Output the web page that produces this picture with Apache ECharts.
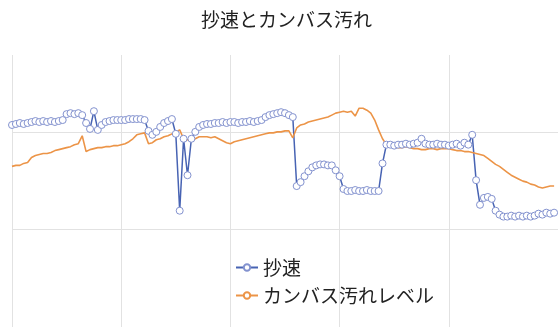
<!DOCTYPE html>
<html>
<head>
<meta charset="utf-8">
<script src="https://cdn.jsdelivr.net/npm/echarts@6/dist/echarts.min.js"></script>
<style>
  html, body { margin: 0; padding: 0; background: #fff; }
  #chart { width: 558px; height: 327px; }
</style>
</head>
<body>
<div id="chart"></div>
<script>
// 抄速 (one reading per sample)
const speedValues = [
  205, 206, 207, 206, 207, 208, 209, 208, 209, 208,
  209, 208, 209, 210, 216, 217, 216, 217, 215, 207,
  201, 219, 200, 205, 208, 209, 210, 210, 210, 210,
  211, 211, 211, 211, 210, 199, 195, 198, 203, 207,
  209, 211, 196, 118, 191, 154, 191, 198, 203, 205,
  206, 206, 207, 207, 208, 207, 208, 208, 207, 208,
  208, 209, 208, 209, 210, 213, 215, 216, 217, 218,
  217, 215, 213, 143, 147, 153, 158, 162, 164, 165,
  165, 164, 164, 159, 153, 140, 138, 138, 139, 138,
  138, 139, 138, 138, 138, 166, 185, 185, 184, 185,
  185, 186, 185, 186, 187, 191, 186, 185, 185, 186,
  185, 185, 184, 185, 186, 184, 187, 185, 195, 149,
  124, 131, 132, 130, 118, 114, 112, 112, 113, 112,
  113, 112, 113, 112, 113, 115, 114, 116, 115, 116
]

// カンバス汚れレベル
const dirtValues = [
  163, 164, 164, 166, 167, 172, 174, 175, 176, 176,
  177, 179, 180, 181, 182, 183, 185, 186, 194, 178,
  180, 181, 182, 182, 183, 183, 184, 184, 185, 186,
  188, 191, 195, 196, 197, 186, 187, 190, 191, 193,
  194, 196, 198, 200, 191, 190, 189, 191, 193, 193,
  193, 192, 193, 191, 189, 187, 186, 188, 189, 190,
  191, 192, 193, 194, 195, 196, 197, 197, 198, 198,
  199, 199, 192, 202, 205, 206, 208, 209, 210, 211,
  212, 213, 215, 217, 218, 219, 218, 219, 214, 222,
  222, 220, 217, 210, 200, 191, 185, 183, 183, 182,
  182, 183, 182, 181, 181, 180, 180, 181, 181, 180,
  181, 181, 181, 180, 179, 179, 178, 178, 177, 176,
  175, 174, 171, 168, 165, 163, 160, 157, 154, 152,
  150, 148, 147, 145, 144, 142, 141, 142, 143, 143
]

const seriesNames = ['抄速', 'カンバス汚れレベル']

const toPairs = (arr) => arr.map((v, i) => [i, v])

const myChart = echarts.init(document.getElementById('chart'))

const options = {
  animation: false,
  backgroundColor: '#fff',
  title: {
    text: '抄速とカンバス汚れ',
    left: 196,
    top: 5,
    textStyle: {
      fontFamily: 'Noto Sans CJK JP',
      fontSize: 19,
      fontWeight: 'normal',
      color: '#222'
    }
  },
  legend: {
    orient: 'vertical',
    left: 230,
    top: 253,
    itemWidth: 22,
    itemHeight: 8,
    itemGap: 9,
    data: seriesNames,
    textStyle: {
      fontFamily: 'Noto Sans CJK JP',
      fontSize: 19,
      color: '#222'
    }
  },
  grid: {
    left: 12,
    right: -4,
    top: 55,
    bottom: -4
  },
  xAxis: {
    type: 'value',
    min: 0,
    max: 140,
    interval: 28,
    axisLine: { show: false },
    axisTick: { show: false },
    axisLabel: { show: false },
    splitLine: { lineStyle: { color: '#e2e2e2', width: 1 } }
  },
  yAxis: {
    type: 'value',
    min: 0,
    max: 276,
    interval: 99,
    axisLine: { show: false },
    axisTick: { show: false },
    axisLabel: { show: false },
    splitLine: {
      showMaxLine: false,
      lineStyle: { color: '#e2e2e2', width: 1 }
    }
  },
  series: [
    {
      name: seriesNames[0],
      type: 'line',
      symbol: 'circle',
      symbolSize: 7,
      showSymbol: true,
      showAllSymbol: true,
      itemStyle: { color: '#fff', borderColor: '#8392cf', borderWidth: 1 },
      lineStyle: { width: 1.5, color: '#4763b3' },
      data: toPairs(speedValues)
    },
    {
      name: seriesNames[1],
      type: 'line',
      showSymbol: false,
      itemStyle: { color: '#ec9447' },
      lineStyle: { width: 1.6, color: '#ec9447' },
      data: toPairs(dirtValues)
    }
  ]
}

myChart.setOption(options)
</script>
</body>
</html>
